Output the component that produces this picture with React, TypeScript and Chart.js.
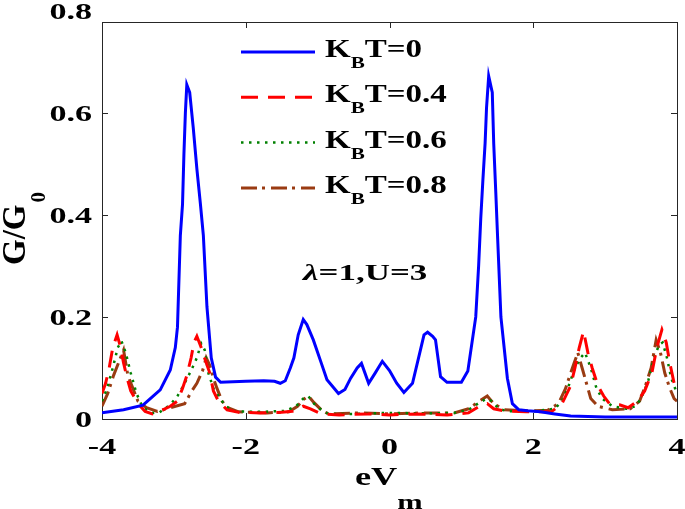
import React, { useEffect, useRef } from "react";
import { Chart, registerables } from "chart.js";
Chart.register(...registerables);

// ---- axis ticks ----
const xTickValues = [-4, -2, 0, 2, 4];
const xTickLabels = ["-4", "-2", "0", "2", "4"];
const yTickValues = [0, 0.2, 0.4, 0.6, 0.8];
const yTickLabels = ["0", "0.2", "0.4", "0.6", "0.8"];

// ---- series: K_B T values ----
const seriesTemps = ["0", "0.4", "0.6", "0.8"];
const seriesColors = ["#0000ff", "#ff0000", "#008000", "#9a3b12"];

// K_B T = 0
const t0X = [-4.0, -3.7, -3.43, -3.19, -3.05, -2.98, -2.95, -2.91, -2.88, -2.86, -2.84, -2.82, -2.78, -2.73, -2.68, -2.63, -2.59, -2.54, -2.48, -2.42, -2.35, -2.0, -1.75, -1.6, -1.52, -1.45, -1.38, -1.33, -1.27, -1.2, -1.15, -1.06, -0.95, -0.87, -0.71, -0.62, -0.54, -0.45, -0.39, -0.29, -0.2, -0.1, 0.0, 0.1, 0.2, 0.32, 0.43, 0.48, 0.53, 0.6, 0.64, 0.71, 0.8, 1.0, 1.09, 1.2, 1.24, 1.27, 1.3, 1.33, 1.35, 1.38, 1.43, 1.45, 1.48, 1.5, 1.55, 1.64, 1.71, 1.8, 1.92, 2.1, 2.3, 2.52, 3.0, 4.0];
const t0Y = [0.012, 0.018, 0.027, 0.057, 0.096, 0.14, 0.18, 0.36, 0.42, 0.52, 0.6, 0.655, 0.64, 0.57, 0.49, 0.42, 0.36, 0.22, 0.12, 0.082, 0.072, 0.074, 0.075, 0.074, 0.07, 0.075, 0.1, 0.12, 0.165, 0.195, 0.185, 0.155, 0.11, 0.077, 0.05, 0.058, 0.08, 0.1, 0.109, 0.07, 0.09, 0.113, 0.095, 0.07, 0.052, 0.07, 0.135, 0.165, 0.17, 0.162, 0.155, 0.083, 0.072, 0.072, 0.094, 0.2, 0.3, 0.394, 0.47, 0.54, 0.61, 0.672, 0.64, 0.54, 0.44, 0.37, 0.2, 0.08, 0.03, 0.018, 0.016, 0.014, 0.01, 0.006, 0.004, 0.004];

// K_B T = 0.4
const t04X = [-4.0, -3.95, -3.9, -3.85, -3.79, -3.74, -3.7, -3.65, -3.6, -3.5, -3.4, -3.3, -3.2, -3.05, -2.95, -2.88, -2.82, -2.76, -2.72, -2.68, -2.62, -2.55, -2.5, -2.45, -2.38, -2.26, -2.1, -1.8, -1.5, -1.35, -1.2, -1.1, -0.95, -0.7, -0.3, 0.0, 0.4, 0.8, 1.1, 1.25, 1.36, 1.45, 1.6, 1.9, 2.25, 2.4, 2.52, 2.58, 2.64, 2.7, 2.76, 2.82, 2.9, 2.98, 3.06, 3.2, 3.32, 3.45, 3.55, 3.65, 3.72, 3.79, 3.85, 3.9, 3.96, 4.0];
const t04Y = [0.05, 0.07, 0.1, 0.14, 0.165, 0.14, 0.11, 0.08, 0.055, 0.03, 0.015, 0.01, 0.015, 0.025, 0.035, 0.06, 0.085, 0.12, 0.15, 0.162, 0.14, 0.11, 0.09, 0.055, 0.035, 0.018, 0.013, 0.012, 0.013, 0.015, 0.025, 0.02, 0.01, 0.008, 0.01, 0.008, 0.01, 0.008, 0.012, 0.025, 0.03, 0.02, 0.016, 0.014, 0.014, 0.03, 0.065, 0.1, 0.14, 0.172, 0.13, 0.1, 0.065, 0.045, 0.03, 0.028, 0.022, 0.035, 0.055, 0.09, 0.14, 0.175, 0.15, 0.11, 0.07, 0.06];

// K_B T = 0.6
const t06X = [-4.0, -3.93, -3.85, -3.78, -3.73, -3.67, -3.6, -3.52, -3.43, -3.3, -3.2, -3.05, -2.95, -2.85, -2.76, -2.68, -2.62, -2.57, -2.52, -2.45, -2.38, -2.28, -2.15, -1.8, -1.45, -1.3, -1.2, -1.13, -1.05, -0.95, -0.85, -0.5, 0.0, 0.5, 0.9, 1.1, 1.25, 1.35, 1.42, 1.52, 1.65, 2.0, 2.3, 2.4, 2.48, 2.58, 2.66, 2.72, 2.8, 2.88, 2.96, 3.1, 3.3, 3.42, 3.5, 3.6, 3.68, 3.75, 3.8, 3.86, 3.92, 4.0];
const t06Y = [0.035, 0.06, 0.1, 0.14, 0.153, 0.13, 0.09, 0.05, 0.022, 0.012, 0.013, 0.028, 0.045, 0.07, 0.095, 0.12, 0.148, 0.135, 0.09, 0.06, 0.045, 0.025, 0.015, 0.014, 0.016, 0.025, 0.04, 0.045, 0.03, 0.018, 0.01, 0.01, 0.012, 0.011, 0.012, 0.018, 0.032, 0.04, 0.035, 0.02, 0.015, 0.015, 0.02, 0.035, 0.06, 0.1, 0.12, 0.13, 0.1, 0.06, 0.04, 0.025, 0.02, 0.025, 0.04, 0.075, 0.12, 0.145, 0.15, 0.12, 0.08, 0.05];

// K_B T = 0.8
const t08X = [-4.0, -3.92, -3.84, -3.77, -3.7, -3.64, -3.57, -3.5, -3.38, -3.23, -3.05, -2.85, -2.75, -2.68, -2.6, -2.55, -2.5, -2.45, -2.4, -2.33, -2.25, -2.1, -1.7, -1.4, -1.28, -1.2, -1.13, -1.05, -0.95, -0.85, -0.4, 0.0, 0.5, 0.9, 1.1, 1.25, 1.36, 1.45, 1.6, 1.9, 2.2, 2.35, 2.45, 2.52, 2.57, 2.62, 2.68, 2.74, 2.8, 2.9, 3.1, 3.35, 3.48, 3.56, 3.64, 3.71, 3.77, 3.83, 3.9, 3.96, 4.0];
const t08Y = [0.025, 0.05, 0.085, 0.11, 0.135, 0.085, 0.06, 0.035, 0.022, 0.015, 0.022, 0.03, 0.055, 0.07, 0.095, 0.12, 0.105, 0.08, 0.06, 0.035, 0.022, 0.014, 0.012, 0.014, 0.025, 0.038, 0.045, 0.032, 0.018, 0.01, 0.012, 0.01, 0.012, 0.012, 0.02, 0.035, 0.045, 0.03, 0.018, 0.016, 0.017, 0.03, 0.06, 0.09, 0.11, 0.13, 0.1, 0.07, 0.04, 0.025, 0.018, 0.02, 0.035, 0.065, 0.1, 0.155, 0.13, 0.09, 0.06, 0.04, 0.035];

const seriesX = [t0X, t04X, t06X, t08X];
const seriesY = [t0Y, t04Y, t06Y, t08Y];
const seriesDash: number[][] = [[], [17, 10], [2.5, 5.5], [16, 5, 3, 6]];

const annotationText = ["λ", "=1,U=3"];

const FAMILY = "'Liberation Serif', 'Times New Roman', serif";

type Piece = { text: string; size: number; dy?: number; italic?: boolean };

function drawRich(ctx: CanvasRenderingContext2D, pieces: Piece[], x: number, y: number, sx: number, align: "left" | "center" | "right" = "left") {
  ctx.save();
  ctx.textAlign = "left";
  ctx.textBaseline = "alphabetic";
  let total = 0;
  const widths: number[] = [];
  for (const p of pieces) {
    ctx.font = `${p.italic ? "italic " : ""}bold ${p.size}px ${FAMILY}`;
    const w = ctx.measureText(p.text).width;
    widths.push(w);
    total += w;
  }
  let start = 0;
  if (align === "center") start = -total / 2;
  if (align === "right") start = -total;
  ctx.translate(x, y);
  ctx.scale(sx, 1);
  let cx = start;
  pieces.forEach((p, i) => {
    ctx.font = `${p.italic ? "italic " : ""}bold ${p.size}px ${FAMILY}`;
    ctx.fillText(p.text, cx, p.dy || 0);
    cx += widths[i];
  });
  ctx.restore();
}

const decorPlugin = {
  id: "decor",
  beforeDatasetsDraw(chart: any) {
    const { ctx, chartArea, scales } = chart;
    const { left, right, top, bottom } = chartArea;
    ctx.save();
    ctx.strokeStyle = "#262626";
    ctx.lineWidth = 1;
    ctx.strokeRect(left + 0.5, top + 0.5, right - left, bottom - top);
    const tl = 6;
    ctx.beginPath();
    xTickValues.forEach((v) => {
      const px = Math.round(scales.x.getPixelForValue(v)) + 0.5;
      ctx.moveTo(px, bottom);
      ctx.lineTo(px, bottom - tl);
      ctx.moveTo(px, top);
      ctx.lineTo(px, top + tl);
    });
    yTickValues.forEach((v) => {
      const py = Math.round(scales.y.getPixelForValue(v)) + 0.5;
      if (py < top - 0.5) return;
      ctx.moveTo(left, py);
      ctx.lineTo(left + tl, py);
      ctx.moveTo(right, py);
      ctx.lineTo(right - tl, py);
    });
    ctx.stroke();
    ctx.restore();
  },
  afterDraw(chart: any) {
    const { ctx, scales } = chart;
    ctx.save();
    ctx.fillStyle = "#000";
    // y tick labels
    yTickValues.forEach((v, i) => {
      const py = scales.y.getPixelForValue(v);
      drawRich(ctx, [{ text: yTickLabels[i], size: 24 }], 92, py + 8, 1.42, "right");
    });
    // x tick labels
    xTickValues.forEach((v, i) => {
      const px = scales.x.getPixelForValue(v);
      drawRich(ctx, [{ text: xTickLabels[i], size: 24 }], px, 454, 1.42, "center");
    });
    // x title
    drawRich(ctx, [{ text: "eV", size: 25 }, { text: "m", size: 21, dy: 24 }], 355, 485, 1.45, "left");
    // y title (rotated)
    ctx.save();
    ctx.translate(25, 265);
    ctx.rotate(-Math.PI / 2);
    ctx.textAlign = "left";
    ctx.textBaseline = "alphabetic";
    ctx.font = `bold 33px ${FAMILY}`;
    ctx.fillText("G/G", 0, 0);
    const w = ctx.measureText("G/G").width;
    ctx.font = `bold 21px ${FAMILY}`;
    ctx.fillText("0", w + 2, 20);
    ctx.restore();
    // annotation
    drawRich(ctx, [{ text: annotationText[0], size: 23, italic: true }, { text: annotationText[1], size: 23 }], 303, 280, 1.52, "left");
    // legend
    const lx0 = 241, lx1 = 315;
    seriesTemps.forEach((t, i) => {
      const ly = 52 + 45.3 * i;
      ctx.save();
      ctx.strokeStyle = seriesColors[i];
      ctx.lineWidth = i === 2 ? 2.5 : 3;
      ctx.setLineDash(seriesDash[i]);
      ctx.beginPath();
      ctx.moveTo(lx0, ly);
      ctx.lineTo(lx1, ly);
      ctx.stroke();
      ctx.restore();
      drawRich(ctx, [
        { text: "K", size: 25 },
        { text: "B", size: 16, dy: 11 },
        { text: "T=" + t, size: 25 },
      ], 325, ly + 5, 1.32, "left");
    });
    ctx.restore();
  },
};

export default function App() {
  const ref = useRef<HTMLCanvasElement | null>(null);
  useEffect(() => {
    if (!ref.current) return;
    const datasets = seriesTemps.map((t, i) => ({
      label: "KBT=" + t,
      data: seriesX[i].map((x, j) => ({ x, y: seriesY[i][j] })),
      borderColor: seriesColors[i],
      backgroundColor: seriesColors[i],
      borderWidth: i === 2 ? 2.5 : 3,
      borderDash: seriesDash[i],
      pointRadius: 0,
      tension: 0,
      fill: false,
    }));
    const chart = new Chart(ref.current, {
      type: "line",
      data: { datasets },
      options: {
        responsive: false,
        animation: false,
        layout: { padding: { left: 0, right: 8, top: 22, bottom: 0 } },
        plugins: { legend: { display: false }, tooltip: { enabled: false } },
        scales: {
          x: {
            type: "linear",
            min: -4,
            max: 4,
            ticks: { display: false },
            grid: { display: false },
            border: { display: false },
            afterFit: (s: any) => {
              s.height = 90;
            },
          },
          y: {
            type: "linear",
            min: 0,
            max: 0.778,
            ticks: { display: false },
            grid: { display: false },
            border: { display: false },
            afterFit: (s: any) => {
              s.width = 102;
            },
          },
        },
      },
      plugins: [decorPlugin],
    } as any);
    return () => chart.destroy();
  }, []);
  return (
    <div style={{ position: "absolute", left: 0, top: 0, width: 685, height: 509, background: "#fff" }}>
      <canvas ref={ref} width={685} height={509} />
    </div>
  );
}
